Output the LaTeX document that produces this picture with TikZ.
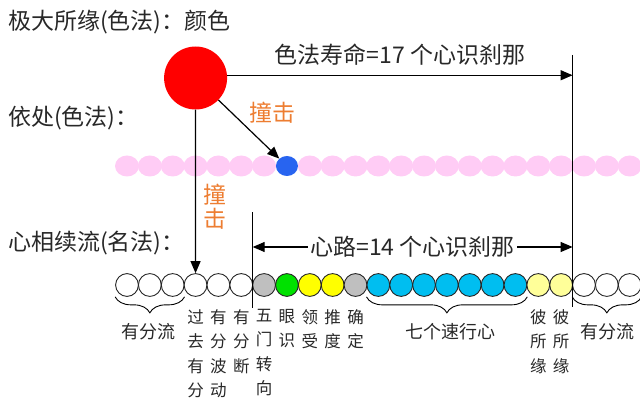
\documentclass[tikz,border=0pt]{standalone}
\usepackage{fontspec}
\newfontfamily\cjk{Noto Sans CJK SC}
\usepackage{tikz}
\usetikzlibrary{arrows.meta, positioning, shapes.geometric, decorations.pathreplacing}
\usepackage{xcolor}
\definecolor{textgray}{RGB}{40,40,40}
\definecolor{hitorange}{RGB}{237,125,49}
\definecolor{rupared}{RGB}{255,0,0}
\definecolor{basepink}{RGB}{255,204,245}
\definecolor{baseblue}{RGB}{40,100,240}
\definecolor{mindgray}{RGB}{191,191,191}
\definecolor{mindgreen}{RGB}{0,225,0}
\definecolor{mindyellow}{RGB}{255,255,0}
\definecolor{mindcyan}{RGB}{0,190,240}
\definecolor{mindpale}{RGB}{255,255,153}

\begin{document}
\begin{tikzpicture}[
        x=1pt, y=-1pt,
        font=\cjk\fontsize{23}{27}\selectfont,
        % Styles
        title/.style={
            anchor=west,
            inner sep=0pt,
            text=textgray
          },
        mind/.style={
            circle,
            draw=black!85,
            line width=0.9pt,
            minimum size=22.8pt,
            inner sep=0pt
          },
        base/.style={
            ellipse,
            fill=basepink,
            minimum width=24pt,
            minimum height=21pt,
            inner sep=0pt
          },
        hit/.style={
            text=hitorange,
            inner sep=0pt,
            align=center,
            font=\cjk\fontsize{23}{24}\selectfont
          },
        column/.style={
            anchor=north,
            align=center,
            inner sep=0pt,
            text=textgray,
            font=\cjk\fontsize{16.5}{24.5}\selectfont
          },
        underlabel/.style={
            inner sep=0pt,
            text=textgray,
            font=\cjk\fontsize{18}{22}\selectfont
          },
        arrow/.style={
            -{Triangle[length=12pt, width=10pt]},
            line width=1.2pt
          },
        span/.style={
            {Triangle[length=12pt, width=10pt]}-{Triangle[length=12pt, width=10pt]},
            line width=1.2pt
          },
        markline/.style={
            line width=1pt
          },
        group/.style={
            decorate,
            decoration={brace, mirror, amplitude=16pt},
            line width=0.9pt
          }
      ]
      \useasboundingbox (0,0) rectangle (640,401);

      % Row titles (left)
      \node[title] (objtitle) at (8,22) {极大所缘(色法)：颜色};
      \node[title] (basetitle) at (8,118) {依处(色法)：};
      \node[title] (mindtitle) at (8,243) {心相续流(名法)：};

      % Base row (pink), door base in blue
      \foreach \i in {0,...,6,8,9,...,22}
        \node[base] (p\i) at ({127+22.85*\i},166) {};
      \node[base, fill=baseblue, minimum width=22pt, minimum height=20pt] (p7) at ({127+22.85*7},166) {};

      % Mind moments
      \foreach \c [count=\i from 0] in {white,white,white,white,white,white,
          mindgray,mindgreen,mindyellow,mindyellow,mindgray,
          mindcyan,mindcyan,mindcyan,mindcyan,mindcyan,mindcyan,mindcyan,
          mindpale,mindpale,white,white,white}
        \node[mind, fill=\c] (m\i) at ({127+22.85*\i},285) {};

      % Visible object
      \node[circle, fill=rupared, minimum size=63pt, inner sep=0pt] (rupa) at (195.6,78) {};

      % Marker lines
      \coordinate (lifetop) at (572.6,55);
      \coordinate (lifebot) at (572.6,307);
      \coordinate (pathtop) at (252.7,212);
      \coordinate (pathbot) at (252.7,308);
      \draw[markline] (lifetop) -- (lifebot);
      \draw[markline] (pathtop) -- (pathbot);

      % Arrows
      \draw[arrow] (rupa.5) -- node[midway, above=9pt, inner sep=0pt, text=textgray] {色法寿命=17 个心识刹那} (rupa.5 -| lifetop);
      \draw[arrow] (rupa) -- (p7);
      \draw[arrow] (rupa) -- (m3);
      \coordinate (pathL) at (252.7,247);
      \coordinate (pathR) at (572.6,247);
      \draw[span] (pathL) -- node[midway, fill=white, inner sep=2pt, text=textgray] {心路=14 个心识刹那} (pathR);

      % Impact labels
      \node[hit] (hitside) at (272,113) {撞击};
      \node[hit] (hitdown) at (215,207) {撞\\击};

      % Braces
      \draw[group] (m0.west |- m0.south) -- (m2.east |- m2.south);
      \draw[group] (m11.west |- m11.south) -- (m17.east |- m17.south);
      \draw[group] (m20.west |- m20.south) -- (m22.east |- m22.south);
      \node[underlabel] (lifeleft) at (148,332) {有分流};
      \node[underlabel] (javana) at (450,332) {七个速行心};
      \node[underlabel] (liferight) at (607,332) {有分流};

      % Moment names
      \node[column] (atita) at (m3 |- 0,309) {过\\去\\有\\分};
      \node[column] (calana) at (m4 |- 0,309) {有\\分\\波\\动};
      \node[column] (upaccheda) at (m5 |- 0,309) {有\\分\\断};
      \node[column] (avajjana) at (m6 |- 0,309) {五\\门\\转\\向};
      \node[column] (vinnana) at (m7 |- 0,309) {眼\\识};
      \node[column] (sampaticchana) at (m8 |- 0,309) {领\\受};
      \node[column] (santirana) at (m9 |- 0,309) {推\\度};
      \node[column] (votthapana) at (m10 |- 0,309) {确\\定};
      \node[column] (tadarammana1) at (m18 |- 0,309) {彼\\所\\缘};
      \node[column] (tadarammana2) at (m19 |- 0,309) {彼\\所\\缘};

    \end{tikzpicture}
\end{document}
